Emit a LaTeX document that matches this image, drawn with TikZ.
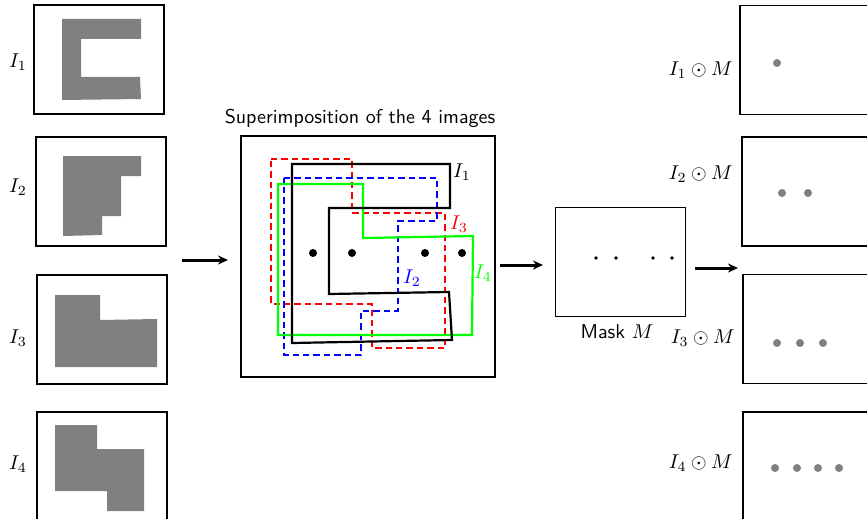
\documentclass[tikz,border=0pt]{standalone}
\usetikzlibrary{arrows.meta}
\definecolor{pgray}{RGB}{128,128,128}
\definecolor{pred}{RGB}{255,0,0}
\definecolor{pblue}{RGB}{0,0,255}
\definecolor{pgreen}{RGB}{0,255,0}
\begin{document}
\begin{tikzpicture}[x=0.5pt,y=-0.5pt,
 box/.style={draw, line width=0.65pt, inner sep=0pt, minimum width=65pt, minimum height=54.5pt},
 shapefill/.style={fill=pgray},
 lab/.style={inner sep=0pt, font=\fontsize{10}{12}\selectfont},
 outl/.style={line width=1.1pt},
 dsh/.style={line width=1.1pt, dash pattern=on 3.2pt off 2pt},
 arr/.style={line width=1.5pt, -{Stealth[length=5pt,width=4.5pt]}},
 dotb/.style={fill=black},
 dotg/.style={fill=pgray}]
\useasboundingbox (0,0) rectangle (867,519);
\clip (0,0) rectangle (867,519);

% left column boxes
\node[box] (L1) at (99,59.5) {};
\node[box] (L2) at (101,191.5) {};
\node[box] (L3) at (102,329.5) {};
\node[box] (L4) at (102,466.5) {};
\node[lab] (tL1) at (18,62) {$I_1$};
\node[lab] (tL2) at (18,187) {$I_2$};
\node[lab] (tL3) at (18,338) {$I_3$};
\node[lab] (tL4) at (18,464) {$I_4$};

% shapes
\fill[shapefill] (62,19) -- (141,19) -- (141,39) -- (81,39) -- (81,77) -- (140,77) -- (141,99) -- (62,100) -- cycle;
\fill[shapefill] (63,156) -- (141,156) -- (141,176) -- (121,176) -- (121,216) -- (102,216) -- (102,235) -- (63,236) -- cycle;
\fill[shapefill] (55,295) -- (100,295) -- (100,320) -- (157,319) -- (157,367) -- (55,367) -- cycle;
\fill[shapefill] (55,425) -- (97,425) -- (97,449) -- (144,449) -- (144,511) -- (107,511) -- (107,491) -- (55,491) -- cycle;

% superimposition
\node[box, minimum width=127pt, minimum height=120.5pt] (S) at (368,256.5) {};
\node[lab, font=\sffamily\fontsize{10}{12}\selectfont] (tS) at (360,118) {Superimposition of the 4 images};

\draw[dsh, pred] (271,159) -- (352,159) -- (352,213) -- (445,213) -- (445,348) -- (372,348) -- (372,304) -- (271,304) -- cycle;
\draw[dsh, pblue] (284,178) -- (437,178) -- (437,221) -- (398,221) -- (398,311) -- (361,311) -- (361,355) -- (284,355) -- cycle;
\draw[outl, pgreen] (278,184) -- (363,184) -- (363,238) -- (473,236) -- (472,335) -- (278,335) -- cycle;
\draw[outl, black] (292,164) -- (450,164) -- (450,208) -- (329,208) -- (329,294) -- (449,292) -- (452,340) -- (292,343) -- cycle;

\node[lab] (tS1) at (462,172) {$I_1$};
\node[lab, text=pred] (tS3) at (459,224) {$I_3$};
\node[lab, text=pblue] (tS2) at (412,278) {$I_2$};
\node[lab, text=pgreen] (tS4) at (483,273) {$I_4$};

\foreach \x in {313,352,425,462} \fill[dotb] (\x,253) circle[radius=2pt];

% mask
\node[box] (M) at (620.5,262) {};
\node[lab] (tM) at (617,332) {\sffamily Mask $M$};
\foreach \x in {596,616,653,672} \fill[dotb] (\x,258) circle[radius=0.95pt];

% right column
\node[box] (R1) at (805,60) {};
\node[box] (R2) at (807,191.5) {};
\node[box] (R3) at (808,329) {};
\node[box] (R4) at (808,466.5) {};
\node[lab, anchor=east] (tR1) at (733,70) {$I_1\odot M$};
\node[lab, anchor=east] (tR2) at (733,174) {$I_2\odot M$};
\node[lab, anchor=east] (tR3) at (735,338) {$I_3\odot M$};
\node[lab, anchor=east] (tR4) at (733,463) {$I_4\odot M$};
\fill[dotg] (777,63) circle[radius=2pt];
\foreach \x in {782,808} \fill[dotg] (\x,193) circle[radius=2pt];
\foreach \x in {777,800,823} \fill[dotg] (\x,343) circle[radius=2pt];
\foreach \x in {775,797,818,839} \fill[dotg] (\x,468) circle[radius=2pt];

% arrows
\coordinate (a1s) at (182,260);
\coordinate (a1e) at (228,260);
\coordinate (a2s) at (500,265);
\coordinate (a2e) at (543,265);
\coordinate (a3s) at (695,268);
\coordinate (a3e) at (738,268);
\draw[arr] (a1s) -- (a1e);
\draw[arr] (a2s) -- (a2e);
\draw[arr] (a3s) -- (a3e);
\end{tikzpicture}
\end{document}
